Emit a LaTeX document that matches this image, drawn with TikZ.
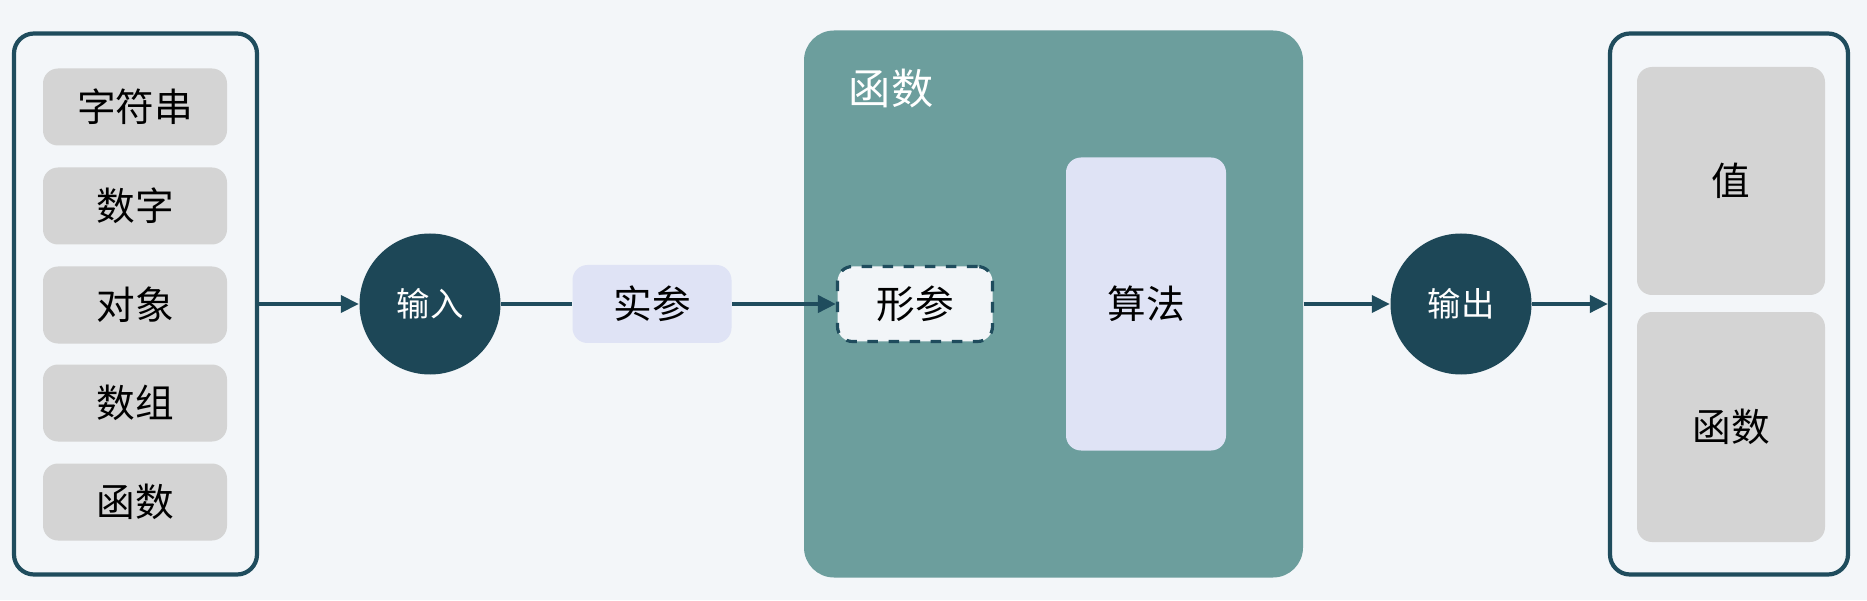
\documentclass[tikz,border=0pt]{standalone}
\usepackage{fontspec}
\setmainfont{Noto Sans CJK SC}
\usetikzlibrary{arrows.meta}
\definecolor{bgcol}{HTML}{F3F6F9}
\definecolor{edgecol}{HTML}{1F4C5D}
\definecolor{nodecol}{HTML}{1D4757}
\definecolor{itemcol}{HTML}{D4D4D4}
\definecolor{funcol}{HTML}{6C9E9D}
\definecolor{lilac}{HTML}{DFE3F5}
\definecolor{parcol}{HTML}{F2F5F8}
\begin{document}
\begin{tikzpicture}[every node/.style={font=\fontsize{11pt}{13pt}\selectfont},
  frame/.style={draw=edgecol, line width=1.2pt, rounded corners=0.2cm, fill=bgcol, minimum width=2.4cm, minimum height=5.41cm},
  item/.style={fill=itemcol, rounded corners=0.15cm, minimum width=1.84cm, minimum height=0.77cm},
  io/.style={circle, fill=nodecol, text=white, minimum size=1.41cm, font=\fontsize{9.5pt}{11pt}\selectfont},
  soft/.style={fill=lilac, rounded corners=0.15cm},
  link/.style={draw=edgecol, line width=1.1pt},
  arr/.style={link, -{Triangle[length=0.18cm,width=0.17cm]}}]
\fill[bgcol] (0, 0) rectangle (18.67, 6.00);
\useasboundingbox (0, 0) rectangle (18.67, 6.00);
\node[frame, minimum width=2.43cm] (src) at (1.355, 2.96) {};
\node[item] (s1) at (1.35, 4.93) {字符串};
\node[item] (s2) at (1.35, 3.94) {数字};
\node[item] (s3) at (1.35, 2.95) {对象};
\node[item] (s4) at (1.35, 1.97) {数组};
\node[item] (s5) at (1.35, 0.98) {函数};
\node[io] (in) at (4.30, 2.96) {输入};
\node[soft, minimum width=1.59cm, minimum height=0.78cm] (arg) at (6.52, 2.96) {实参};
\node[fill=funcol, rounded corners=0.3cm, minimum width=4.99cm, minimum height=5.47cm] (fun) at (10.535, 2.96) {};
\node[text=white, font=\fontsize{12pt}{14pt}\selectfont] (funtitle) at (8.91, 5.11) {函数};
\node[draw=edgecol, dashed, line width=0.9pt, fill=parcol, rounded corners=0.15cm, minimum width=1.55cm, minimum height=0.75cm] (par) at (9.15, 2.96) {形参};
\node[soft, minimum width=1.60cm, minimum height=2.93cm] (alg) at (11.46, 2.96) {算法};
\node[io] (out) at (14.61, 2.96) {输出};
\node[frame, minimum width=2.38cm] (dst) at (17.29, 2.96) {};
\node[item, minimum width=1.88cm, minimum height=2.28cm] (d1) at (17.31, 4.19) {值};
\node[item, minimum width=1.88cm, minimum height=2.30cm] (d2) at (17.31, 1.73) {函数};
\draw[arr] (src.east) -- (in.west);
\draw[link] (in.east) -- (arg.west);
\draw[arr] (arg.east) -- (par.west);
\draw[arr] (fun.east) -- (out.west);
\draw[arr] (out.east) -- (dst.west);
\end{tikzpicture}
\end{document}
